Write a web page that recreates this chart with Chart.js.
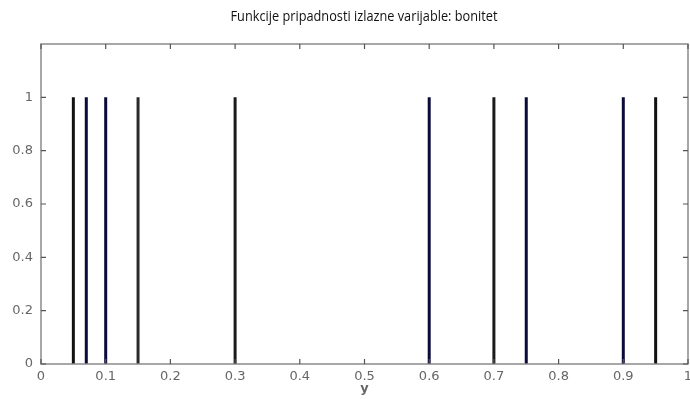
<!DOCTYPE html>
<html>
<head>
<meta charset="utf-8">
<script src="https://cdn.jsdelivr.net/npm/chart.js@4/dist/chart.umd.min.js"></script>
<style>
    html, body { margin: 0; padding: 0; background: #fff; }
    #wrap { width: 690px; height: 399px; position: relative; }
</style>
</head>
<body>
<div id="wrap"><canvas id="chart"></canvas></div>
<script>
// Positions of the singleton membership functions and their heights
const outputPositions = [0.05, 0.07, 0.1, 0.15, 0.3, 0.6, 0.7, 0.75, 0.9, 0.95];
const outputHeights = [1, 1, 1, 1, 1, 1, 1, 1, 1, 1];
const lineColors = ['#111111', '#0b0b3a', '#0b0b3a', '#2a2a2a', '#1a1a1a',
    '#0b0b3a', '#1a1a1a', '#0b0b3a', '#0b0b3a', '#111111'];
const xTickValues = [0, 0.1, 0.2, 0.3, 0.4, 0.5, 0.6, 0.7, 0.8, 0.9, 1];
const yTickValues = [0, 0.2, 0.4, 0.6, 0.8, 1];
const chartTitle = 'Funkcije pripadnosti izlazne varijable: bonitet';
const xAxisLabel = 'y';

/**
 * Draw the title, a box round the plot and inward ticks like MATLAB does
 */
const pluginFrame = {
    id: 'frame',
    afterDraw: function(chart) {
        'use strict';
        const ctx = chart.ctx;
        const area = chart.chartArea;
        const xs = chart.scales.x;
        const ys = chart.scales.y;
        const len = 5;

        ctx.save();
        ctx.strokeStyle = '#8a8a8a';
        ctx.lineWidth = 1.5;
        ctx.strokeRect(area.left, area.top,
            area.right - area.left, area.bottom - area.top);

        ctx.lineWidth = 1.2;
        ctx.strokeStyle = '#555555';
        ctx.beginPath();
        for (const v of xTickValues) {
            const px = xs.getPixelForValue(v);
            ctx.moveTo(px, area.bottom);
            ctx.lineTo(px, area.bottom - len);
            ctx.moveTo(px, area.top);
            ctx.lineTo(px, area.top + len);
        }
        for (const v of yTickValues) {
            const py = ys.getPixelForValue(v);
            ctx.moveTo(area.left, py);
            ctx.lineTo(area.left + len, py);
            ctx.moveTo(area.right, py);
            ctx.lineTo(area.right - len, py);
        }
        ctx.stroke();

        ctx.textAlign = 'center';
        ctx.textBaseline = 'middle';
        ctx.fillStyle = '#666666';
        ctx.font = 'bold 13px "DejaVu Sans", sans-serif';
        ctx.fillText(xAxisLabel, xs.getPixelForValue(0.5), 389);

        // Title font in the original is narrow, so squeeze it a little
        ctx.fillStyle = '#111111';
        ctx.font = '15px "Open Sans", sans-serif';
        ctx.textBaseline = 'alphabetic';
        ctx.translate(364, 20.5);
        ctx.scale(0.85, 1);
        ctx.fillText(chartTitle, 0, 0);
        ctx.restore();
    },
};

const datasets = [];
for (let i = 0; i < outputPositions.length; ++i) {
    datasets.push({
        data: [
            {x: outputPositions[i], y: 0},
            {x: outputPositions[i], y: outputHeights[i]},
        ],
        showLine: true,
        borderColor: lineColors[i],
        borderWidth: 3,
        pointRadius: 0,
        borderCapStyle: 'butt',
    });
}

const tickFont = {family: '"DejaVu Sans", sans-serif', size: 13};

new Chart(document.getElementById('chart'), {
    type: 'scatter',
    data: {datasets: datasets},
    options: {
        responsive: true,
        maintainAspectRatio: false,
        animation: false,
        layout: {padding: {left: 0, right: 2, top: 44, bottom: 0}},
        plugins: {
            legend: {display: false},
            tooltip: {enabled: false},
        },
        scales: {
            x: {
                type: 'linear',
                min: 0,
                max: 1,
                afterBuildTicks: function(scale) {
                    scale.ticks = xTickValues.map((v) => ({value: v}));
                },
                afterFit: function(scale) {
                    scale.height = 35;
                    scale.paddingLeft = 0;
                    scale.paddingRight = 0;
                },
                grid: {display: false, drawTicks: false},
                border: {display: false},
                ticks: {
                    color: '#666666',
                    font: tickFont,
                    padding: 5,
                    maxRotation: 0,
                    autoSkip: false,
                    callback: (v) => String(Math.round(v * 10) / 10),
                },
            },
            y: {
                min: 0,
                max: 1.2,
                afterBuildTicks: function(scale) {
                    scale.ticks = yTickValues.map((v) => ({value: v}));
                },
                afterFit: function(scale) {
                    scale.width = 41;
                    scale.paddingTop = 0;
                    scale.paddingBottom = 0;
                },
                grid: {display: false, drawTicks: false},
                border: {display: false},
                ticks: {
                    color: '#666666',
                    font: tickFont,
                    padding: 8,
                    callback: (v) => String(Math.round(v * 10) / 10),
                },
            },
        },
    },
    plugins: [pluginFrame],
});
</script>
</body>
</html>
